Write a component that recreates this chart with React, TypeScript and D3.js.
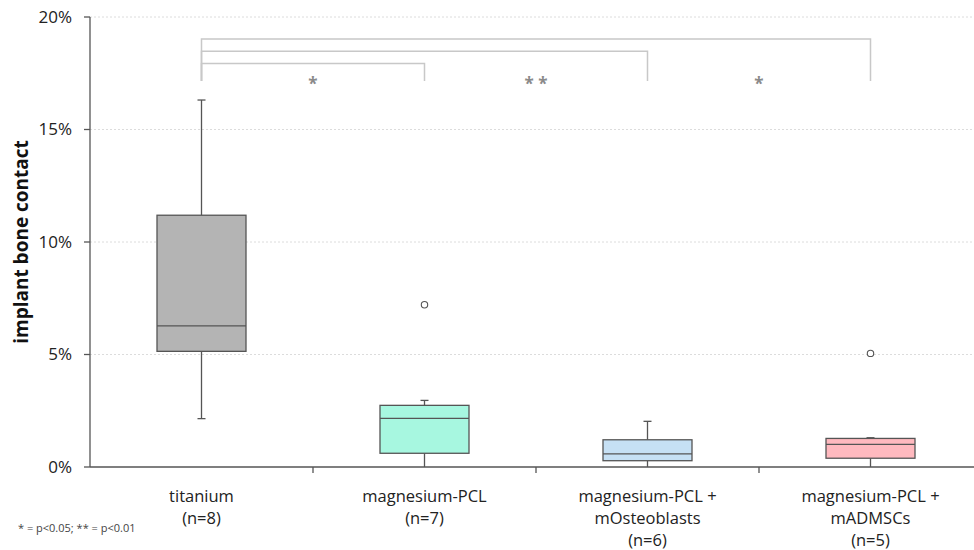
import React from "react";
import * as d3 from "d3";

// group labels (one line per entry)
const groups = ["titanium", "magnesium-PCL", "mOsteoblasts", "mADMSCs"];
const groupLabels = [
  ["titanium", "(n=8)"],
  ["magnesium-PCL", "(n=7)"],
  ["magnesium-PCL +", "mOsteoblasts", "(n=6)"],
  ["magnesium-PCL +", "mADMSCs", "(n=5)"],
];
// box stats, in %
const whiskerLow = [2.15, 0, 0, 0];
const q1 = [5.14, 0.61, 0.28, 0.39];
const median = [6.27, 2.16, 0.58, 1.01];
const q3 = [11.19, 2.74, 1.21, 1.27];
const whiskerHigh = [16.31, 2.96, 2.03, 1.3];
const outliers: [number, number][] = [
  [1, 7.21],
  [3, 5.05],
];
const boxColors = ["#b4b4b4", "#a7f7e0", "#c6e0f4", "#ffb9bf"];
const yTicks = [0, 5, 10, 15, 20];
// significance brackets: from group, to group, stars
const brackets: [number, number, string][] = [
  [0, 1, "*"],
  [0, 2, "* *"],
  [0, 3, "*"],
];

const width = 974;
const height = 550;
const margin = { top: 17, left: 90, bottom: 83 };

export default function App() {
  const x = d3
    .scaleBand()
    .domain(groups)
    .range([margin.left, margin.left + 223 * 4]);
  const y = d3
    .scaleLinear()
    .domain([0, 20])
    .range([height - margin.bottom, margin.top]);
  const bw = 89;
  const font = "'Open Sans', sans-serif";
  const cx = (i: number) => x(groups[i])! + x.bandwidth() / 2;

  return (
    <svg width={width} height={height} style={{ position: "absolute", left: 0, top: 0 }} fontFamily={font}>
      {/* gridlines */}
      {yTicks.slice(1).map((t) => (
        <line key={t} x1={margin.left} x2={972} y1={y(t)} y2={y(t)} stroke="#dcdcdc" strokeDasharray="2,2" />
      ))}

      {/* brackets */}
      {brackets.map(([a, b, s], k) => {
        const yTop = 63.5 - k * 12.3;
        const yBot = 81;
        return (
          <g key={k}>
            <path
              d={`M${cx(a)},${yBot}V${yTop}H${cx(b)}V${yBot}`}
              fill="none"
              stroke="#c8c8c8"
              strokeWidth={1.5}
            />
            <text
              x={(cx(b - 1) + cx(b)) / 2}
              y={90}
              textAnchor="middle"
              fontSize={17}
              fontWeight="bold"
              fill="#8a8a8a"
            >
              {s}
            </text>
          </g>
        );
      })}

      {/* boxes */}
      {groups.map((g, i) => {
        const c = cx(i);
        return (
          <g key={g} stroke="#555" strokeWidth={1.3}>
            <line x1={c} x2={c} y1={y(whiskerLow[i])} y2={y(q1[i])} />
            <line x1={c} x2={c} y1={y(q3[i])} y2={y(whiskerHigh[i])} />
            <line x1={c - 4} x2={c + 4} y1={y(whiskerHigh[i])} y2={y(whiskerHigh[i])} />
            {whiskerLow[i] > 0 && (
              <line x1={c - 4} x2={c + 4} y1={y(whiskerLow[i])} y2={y(whiskerLow[i])} />
            )}
            <rect x={c - bw / 2} width={bw} y={y(q3[i])} height={y(q1[i]) - y(q3[i])} fill={boxColors[i]} />
            <line x1={c - bw / 2} x2={c + bw / 2} y1={y(median[i])} y2={y(median[i])} />
          </g>
        );
      })}
      {outliers.map(([i, v], k) => (
        <circle key={k} cx={cx(i)} cy={y(v)} r={3.2} fill="white" stroke="#555" strokeWidth={1.1} />
      ))}

      {/* y axis */}
      <line x1={margin.left} x2={margin.left} y1={y(20)} y2={y(0)} stroke="#555" strokeWidth={1.3} />
      {yTicks.map((t) => (
        <g key={t}>
          <line x1={margin.left - 6} x2={margin.left} y1={y(t)} y2={y(t)} stroke="#555" strokeWidth={1.3} />
          <text x={72} y={y(t)} dy="0.35em" textAnchor="end" fontSize={17} fill="#222">
            {t}%
          </text>
        </g>
      ))}
      <text
        transform={`translate(28,${y(10)}) rotate(-90)`}
        textAnchor="middle"
        fontSize={19}
        fontWeight="bold"
        fill="#111"
      >
        implant bone contact
      </text>

      {/* x axis */}
      <line x1={margin.left} x2={974} y1={y(0)} y2={y(0)} stroke="#555" strokeWidth={1.3} />
      {groups.slice(1).map((g) => (
        <line key={g} x1={x(g)!} x2={x(g)!} y1={y(0)} y2={y(0) + 6} stroke="#555" strokeWidth={1.3} />
      ))}
      {groupLabels.map((lines, i) =>
        lines.map((l, j) => (
          <text key={`${i}-${j}`} x={cx(i)} y={502 + j * 22} textAnchor="middle" fontSize={16.5} fill="#222">
            {l}
          </text>
        ))
      )}

      <text x={18} y={532} fontSize={11} fill="#444">
        * = p&lt;0.05; ** = p&lt;0.01
      </text>
    </svg>
  );
}
